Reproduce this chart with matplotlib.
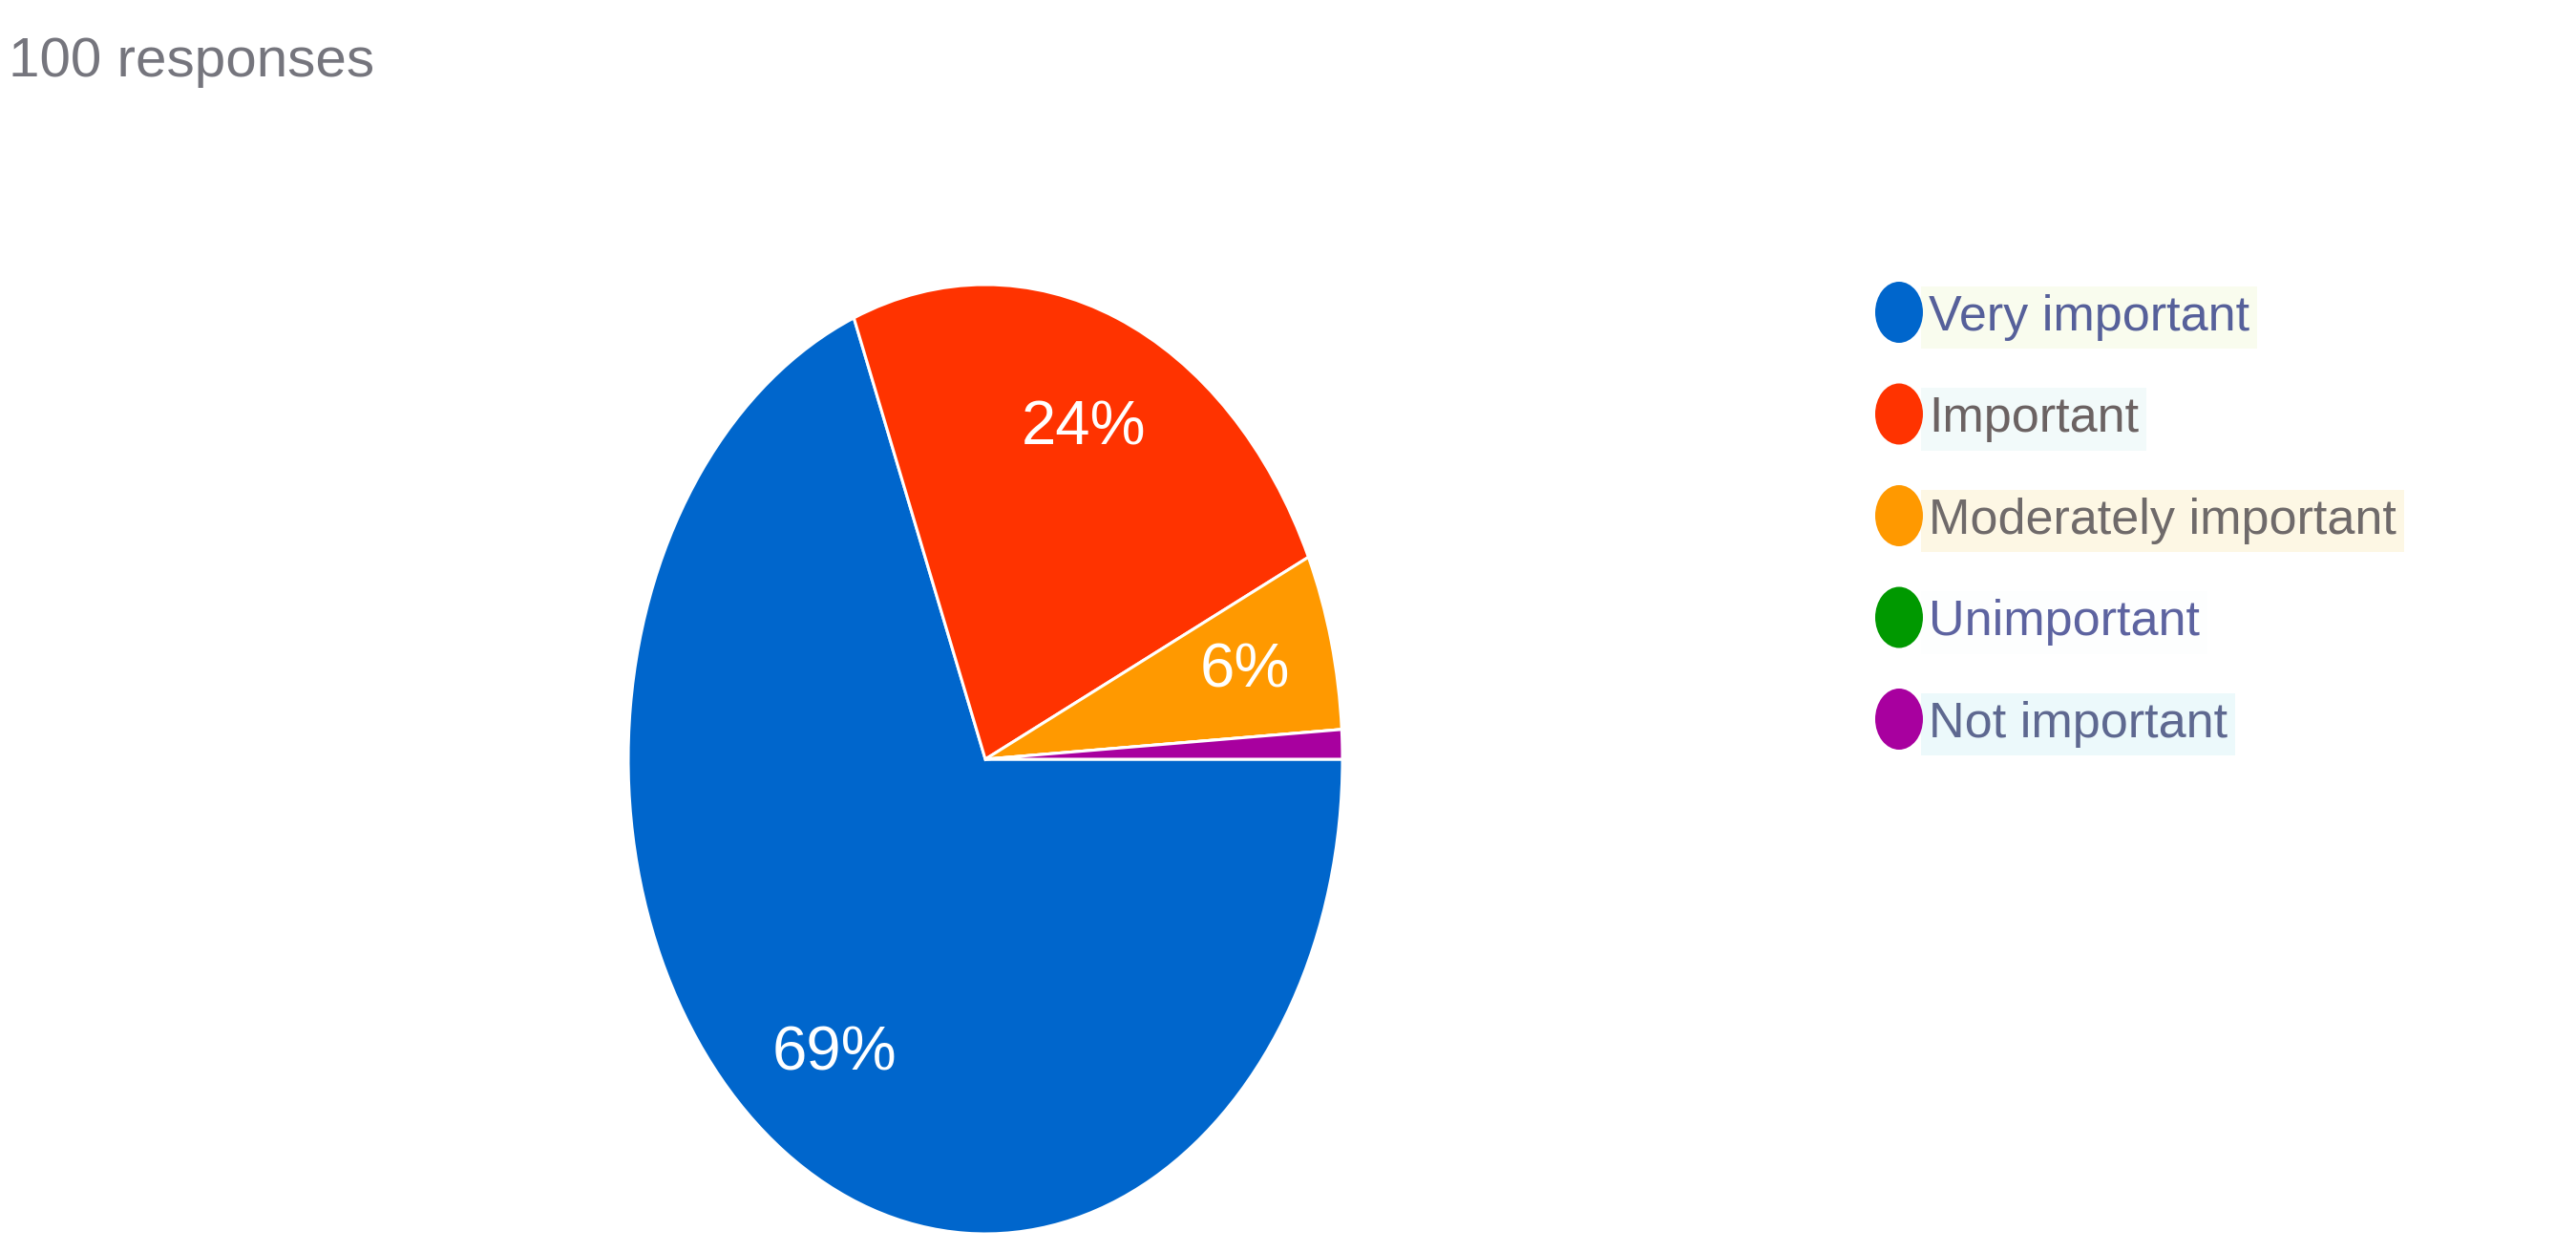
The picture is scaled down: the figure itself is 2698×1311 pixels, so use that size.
import matplotlib
matplotlib.use("Agg")
import matplotlib.pyplot as plt
from matplotlib.patches import Ellipse

# datos
titulo = "100 responses"
categorias = ["Very important", "Important", "Moderately important", "Unimportant", "Not important"]
valores = [69, 24, 6, 0, 1]
colores = ["#0066cc", "#ff3300", "#ff9900", "#009900", "#a8009f"]
colores_texto = ["#56609a", "#6b6262", "#6f6a6a", "#5d63a0", "#5e6890"]
fondos_texto = ["#f9fcee", "#f2fafa", "#fdf7e4", "#fdfefe", "#ecf9fb"]

W, H = 2698, 1311
fig = plt.figure(figsize=(W / 100, H / 100), dpi=100)
fig.patch.set_facecolor("white")

# titulo arriba a la izquierda
fig.text(9 / W, 1 - 80 / H, titulo, fontsize=42, color="#75757d",
         family=["Liberation Sans", "DejaVu Sans"], va="baseline", ha="left")

# la torta es eliptica (estirada en vertical), el eje cubre justo su caja
cx, cy, rx, ry = 1032, 795, 374, 497
ax = fig.add_axes([(cx - rx) / W, 1 - (cy + ry) / H, 2 * rx / W, 2 * ry / H])


def etiqueta(pct):
    return "%d%%" % round(pct) if pct >= 5 else ""


wedges, textos, autotextos = ax.pie(
    valores, colors=colores, startangle=0, counterclock=False,
    autopct=etiqueta, pctdistance=0.75,
    wedgeprops=dict(edgecolor="white", linewidth=2.2),
    textprops=dict(color="white", fontsize=47,
                   family=["Liberation Sans", "DejaVu Sans"]))
ax.set_aspect("auto")
ax.set_xlim(-1, 1)
ax.set_ylim(-1, 1)
ax.axis("off")

# leyenda a mano
y0, paso = 327, 106.5
for i, (cat, col, tcol, fondo) in enumerate(zip(categorias, colores, colores_texto, fondos_texto)):
    y = y0 + i * paso
    fig.text(2020 / W, 1 - (y + 19) / H, cat, fontsize=37.5, color=tcol,
             family=["Liberation Sans", "DejaVu Sans"], va="baseline", ha="left",
             bbox=dict(facecolor=fondo, edgecolor="none", pad=6), zorder=3)
    fig.add_artist(Ellipse((1989 / W, 1 - y / H), 50 / W, 64 / H,
                           transform=fig.transFigure, facecolor=col,
                           edgecolor="none", zorder=5))

fig.savefig("out.png", dpi=100, facecolor="white")
